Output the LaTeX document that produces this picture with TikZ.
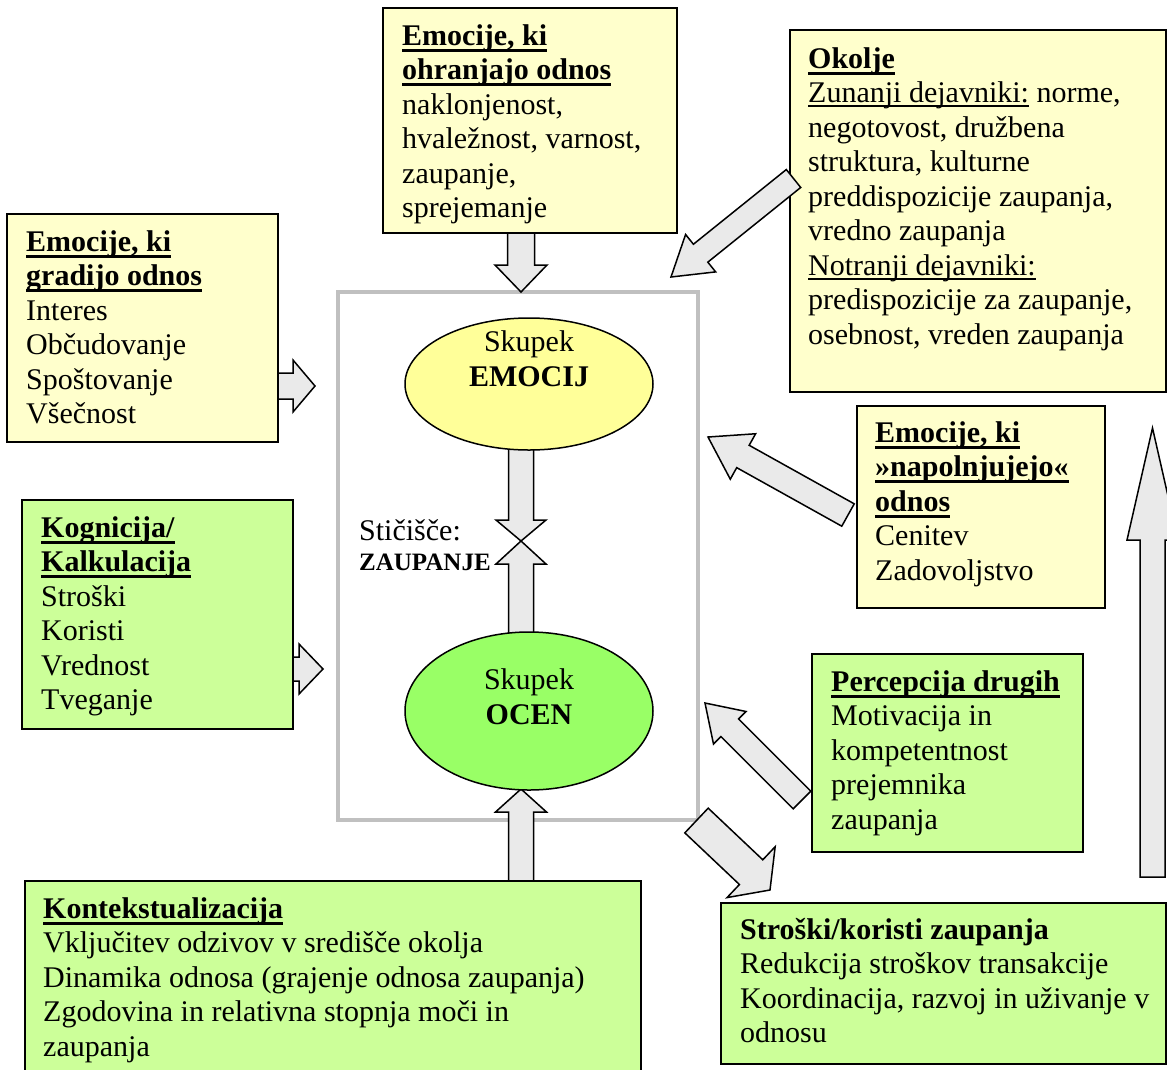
\documentclass[tikz,border=0pt]{standalone}
\usepackage{fontspec}
\setmainfont{Liberation Serif}
\usetikzlibrary{calc,shapes.geometric}
\definecolor{yboxc}{HTML}{FFFFCC}
\definecolor{gboxc}{HTML}{CCFF99}
\definecolor{yellc}{HTML}{FFFF99}
\definecolor{gellc}{HTML}{99FF66}
\definecolor{arrc}{HTML}{EAEAEA}
\definecolor{framec}{HTML}{C0C0C0}
\newcommand\ulb[1]{\setbox0=\hbox{\bfseries #1}\rlap{\rule[-6.5pt]{\wd0}{3pt}}\box0\relax}
\newcommand\ulr[1]{\setbox0=\hbox{#1}\rlap{\rule[-4.5pt]{\wd0}{1.8pt}}\box0\relax}
% block arrow: tail, tip, shaft half width, head half width, head length
\newcommand\barrow[5]{%
  \coordinate (baH) at ($(#2)!#5!(#1)$);
  \draw[arrstyle] ($(#1)!#3!90:(#2)$) -- ($(baH)!#3!90:(#2)$) -- ($(baH)!#4!90:(#2)$)
    -- (#2) -- ($(baH)!#4!-90:(#2)$) -- ($(baH)!#3!-90:(#2)$) -- ($(#1)!#3!-90:(#2)$) -- cycle;}
\tikzset{
  arrstyle/.style={fill=arrc, draw=black, line width=1.5pt, line join=miter},
  boxbase/.style={draw=black, line width=1.8pt, anchor=north west, inner sep=0pt},
  ybox/.style={boxbase, fill=yboxc},
  gbox/.style={boxbase, fill=gboxc},
  txt/.style={anchor=north west, inner sep=0pt, align=left, font=\fontsize{30}{34.5}\selectfont},
  ctxt/.style={anchor=north, inner sep=0pt, align=center, font=\fontsize{30}{35}\selectfont},
  ell/.style={ellipse, draw=black, line width=1.5pt, inner sep=0pt},
}
\begin{document}
\begin{tikzpicture}[x=1pt,y=-1pt]
\useasboundingbox (0,0) rectangle (1167,1069);
\clip (0,0) rectangle (1167,1069);
\fill[white] (0,0) rectangle (1167,1069);

% central frame
\node[draw=framec, line width=4pt, minimum width=360pt, minimum height=528pt, inner sep=0pt] (frame) at (518,556) {};

% arrow end coordinates
\coordinate (aTopT) at (521,225);   \coordinate (aTopH) at (521,292);
\coordinate (aGrT) at (270,386);    \coordinate (aGrH) at (315,386);
\coordinate (aKoT) at (285,669);    \coordinate (aKoH) at (323,669);
\coordinate (aMdT) at (521,440);    \coordinate (aMdH) at (521,541);
\coordinate (aMuT) at (521,645);    \coordinate (aMuH) at (521,541);
\coordinate (aBoT) at (521,888);    \coordinate (aBoH) at (521,789);
\coordinate (aNaT) at (848,515);    \coordinate (aNaH) at (708,437);
\coordinate (aPeT) at (802,800);    \coordinate (aPeH) at (705,703);
\coordinate (aStT) at (696.5,820.5);\coordinate (aStH) at (770,890);
\coordinate (aBgT) at (1152.5,877); \coordinate (aBgH) at (1152.5,428);
\coordinate (aOkT) at (793.5,178.5);\coordinate (aOkH) at (671,277);

\barrow{aTopT}{aTopH}{13.5pt}{26pt}{27pt}
\barrow{aGrT}{aGrH}{13pt}{26pt}{22pt}
\barrow{aKoT}{aKoH}{12pt}{25pt}{24pt}
\barrow{aMdT}{aMdH}{12.5pt}{25pt}{21pt}
\barrow{aMuT}{aMuH}{12.5pt}{25pt}{23pt}
\barrow{aBoT}{aBoH}{12.5pt}{25.5pt}{23pt}
\barrow{aNaT}{aNaH}{12.8pt}{26pt}{40pt}
\barrow{aPeT}{aPeH}{12.5pt}{23pt}{35pt}
\barrow{aStT}{aStH}{17pt}{35pt}{26pt}
\barrow{aBgT}{aBgH}{12.5pt}{25.5pt}{112pt}

% ellipses
\node[ell, fill=yellc, minimum width=248pt, minimum height=132pt] (emo) at (529,384) {};
\node[ell, fill=gellc, minimum width=248pt, minimum height=158pt] (oce) at (529,711) {};
\node[ctxt] (emot) at (529,326.85) {\strut Skupek\\\textbf{EMOCIJ}};
\node[ctxt] (ocet) at (529,664.85) {\strut Skupek\\\textbf{OCEN}};

% meeting point label
\node[anchor=base west, inner sep=0pt, font=\fontsize{30}{34.5}\selectfont] (stic) at (359,540) {Stičišče:};
\node[anchor=base west, inner sep=0pt, font=\fontsize{25}{30}\selectfont\bfseries] (zaup) at (359,570) {ZAUPANJE};

% boxes
\node[ybox, minimum width=294pt, minimum height=225pt] (b1) at (382,7) {};
\node[txt] (b1t) at (402,20.85) {\strut\ulb{Emocije, ki}\\\ulb{ohranjajo odnos}\\naklonjenost,\\hvaležnost, varnost,\\zaupanje,\\sprejemanje};

\node[ybox, minimum width=376pt, minimum height=362pt] (b2) at (789,29) {};
\node[txt] (b2t) at (808,43.85) {\strut\ulb{Okolje}\\\ulr{Zunanji dejavniki:} norme,\\negotovost, družbena\\struktura, kulturne\\preddispozicije zaupanja,\\vredno zaupanja\\\ulr{Notranji dejavniki:}\\predispozicije za zaupanje,\\osebnost, vreden zaupanja};

\node[ybox, minimum width=271pt, minimum height=228pt] (b3) at (6,213) {};
\node[txt] (b3t) at (26,226.85) {\strut\ulb{Emocije, ki}\\\ulb{gradijo odnos}\\Interes\\Občudovanje\\Spoštovanje\\Všečnost};

\node[gbox, minimum width=271pt, minimum height=229pt] (b4) at (21,499) {};
\node[txt] (b4t) at (41,512.85) {\strut\ulb{Kognicija/}\\\ulb{Kalkulacija}\\Stroški\\Koristi\\Vrednost\\Tveganje};

\node[ybox, minimum width=248pt, minimum height=202pt] (b5) at (856,405) {};
\node[txt] (b5t) at (875,417.85) {\strut\ulb{Emocije, ki}\\\ulb{»napolnjujejo«}\\\ulb{odnos}\\Cenitev\\Zadovoljstvo};

\node[gbox, minimum width=271pt, minimum height=198pt] (b6) at (811,653) {};
\node[txt] (b6t) at (831,666.85) {\strut\ulb{Percepcija drugih}\\Motivacija in\\kompetentnost\\prejemnika\\zaupanja};

\node[gbox, minimum width=616pt, minimum height=200pt] (b7) at (24,880) {};
\node[txt] (b7t) at (43,893.85) {\strut\ulb{Kontekstualizacija}\\Vključitev odzivov v središče okolja\\Dinamika odnosa (grajenje odnosa zaupanja)\\Zgodovina in relativna stopnja moči in\\zaupanja};

\node[gbox, minimum width=445pt, minimum height=161pt] (b8) at (720,902) {};
\node[txt] (b8t) at (740,914.85) {\strut\textbf{Stroški/koristi zaupanja}\\Redukcija stroškov transakcije\\Koordinacija, razvoj in uživanje v\\odnosu};

% arrow drawn over the Okolje box
\barrow{aOkT}{aOkH}{11.5pt}{24pt}{38pt}
\end{tikzpicture}
\end{document}
